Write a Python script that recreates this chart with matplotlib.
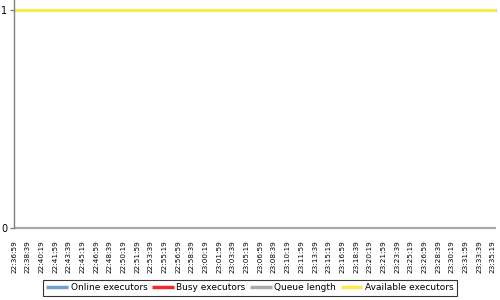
import matplotlib
matplotlib.use("Agg")
import matplotlib.pyplot as plt

# ---- data ----
tick_labels = [
    "22:36:59", "22:38:39", "22:40:19", "22:41:59", "22:43:39", "22:45:19",
    "22:46:59", "22:48:39", "22:50:19", "22:51:59", "22:53:39", "22:55:19",
    "22:56:59", "22:58:39", "23:00:19", "23:01:59", "23:03:39", "23:05:19",
    "23:06:59", "23:08:39", "23:10:19", "23:11:59", "23:13:39", "23:15:19",
    "23:16:59", "23:18:39", "23:20:19", "23:21:59", "23:23:39", "23:25:19",
    "23:26:59", "23:28:39", "23:30:19", "23:31:59", "23:33:39", "23:35:19",
]
sample_times = tick_labels + ["23:35:39"]

online_executors = [1, 1, 1, 1, 1, 1, 1, 1, 1, 1, 1, 1, 1, 1, 1, 1, 1, 1, 1,
                    1, 1, 1, 1, 1, 1, 1, 1, 1, 1, 1, 1, 1, 1, 1, 1, 1, 1]
busy_executors = [0, 0, 0, 0, 0, 0, 0, 0, 0, 0, 0, 0, 0, 0, 0, 0, 0, 0, 0,
                  0, 0, 0, 0, 0, 0, 0, 0, 0, 0, 0, 0, 0, 0, 0, 0, 0, 0]
queue_length = [0, 0, 0, 0, 0, 0, 0, 0, 0, 0, 0, 0, 0, 0, 0, 0, 0, 0, 0,
                0, 0, 0, 0, 0, 0, 0, 0, 0, 0, 0, 0, 0, 0, 0, 0, 0, 0]
available_executors = [1, 1, 1, 1, 1, 1, 1, 1, 1, 1, 1, 1, 1, 1, 1, 1, 1, 1, 1,
                       1, 1, 1, 1, 1, 1, 1, 1, 1, 1, 1, 1, 1, 1, 1, 1, 1, 1]

series_names = ["Online executors", "Busy executors", "Queue length", "Available executors"]
series_colors = ["#729fcf", "#ef2929", "#aaaaaa", "#fce94f"]
series_widths = [2.2, 1.5, 1.5, 2.2]


def to_sec(t):
    h, m, s = (int(p) for p in t.split(":"))
    return h * 3600 + m * 60 + s


t0 = to_sec(tick_labels[0])
x = [to_sec(t) - t0 for t in sample_times]
tick_x = [to_sec(t) - t0 for t in tick_labels]

fig = plt.figure(figsize=(5, 3), dpi=100)
ax = fig.add_axes([0.028, 0.24, 0.964, 0.76])

for vals, name, col, lw in zip(
    [online_executors, busy_executors, queue_length, available_executors],
    series_names, series_colors, series_widths,
):
    ax.plot(x, vals, color=col, lw=lw, label=name, solid_capstyle="butt", clip_on=False)

ax.set_xlim(0, x[-1] + 3)
ax.set_ylim(0, 1.046)

ax.set_xticks(tick_x)
ax.set_xticklabels(tick_labels, rotation=90, fontsize=5.2, family="DejaVu Sans")
ax.tick_params(axis="x", length=0, pad=9)
ax.set_yticks([0, 1])
ax.set_yticklabels(["0", "1"], fontsize=7)
ax.tick_params(axis="y", length=3, width=1, color="#808080", pad=2)

for s in ["top", "right", "bottom"]:
    ax.spines[s].set_visible(False)
ax.spines["left"].set_color("#808080")
ax.spines["left"].set_linewidth(1)

leg = fig.legend(
    loc="center", bbox_to_anchor=(0.5, 0.04), ncol=4, fontsize=6.5,
    frameon=True, fancybox=False, edgecolor="black", handlelength=2.4,
    handletextpad=0.3, columnspacing=0.5, borderpad=0.35,
)
leg.get_frame().set_linewidth(0.8)
for h in leg.get_lines():
    h.set_linewidth(2.5)

fig.savefig("out.png", dpi=100)
